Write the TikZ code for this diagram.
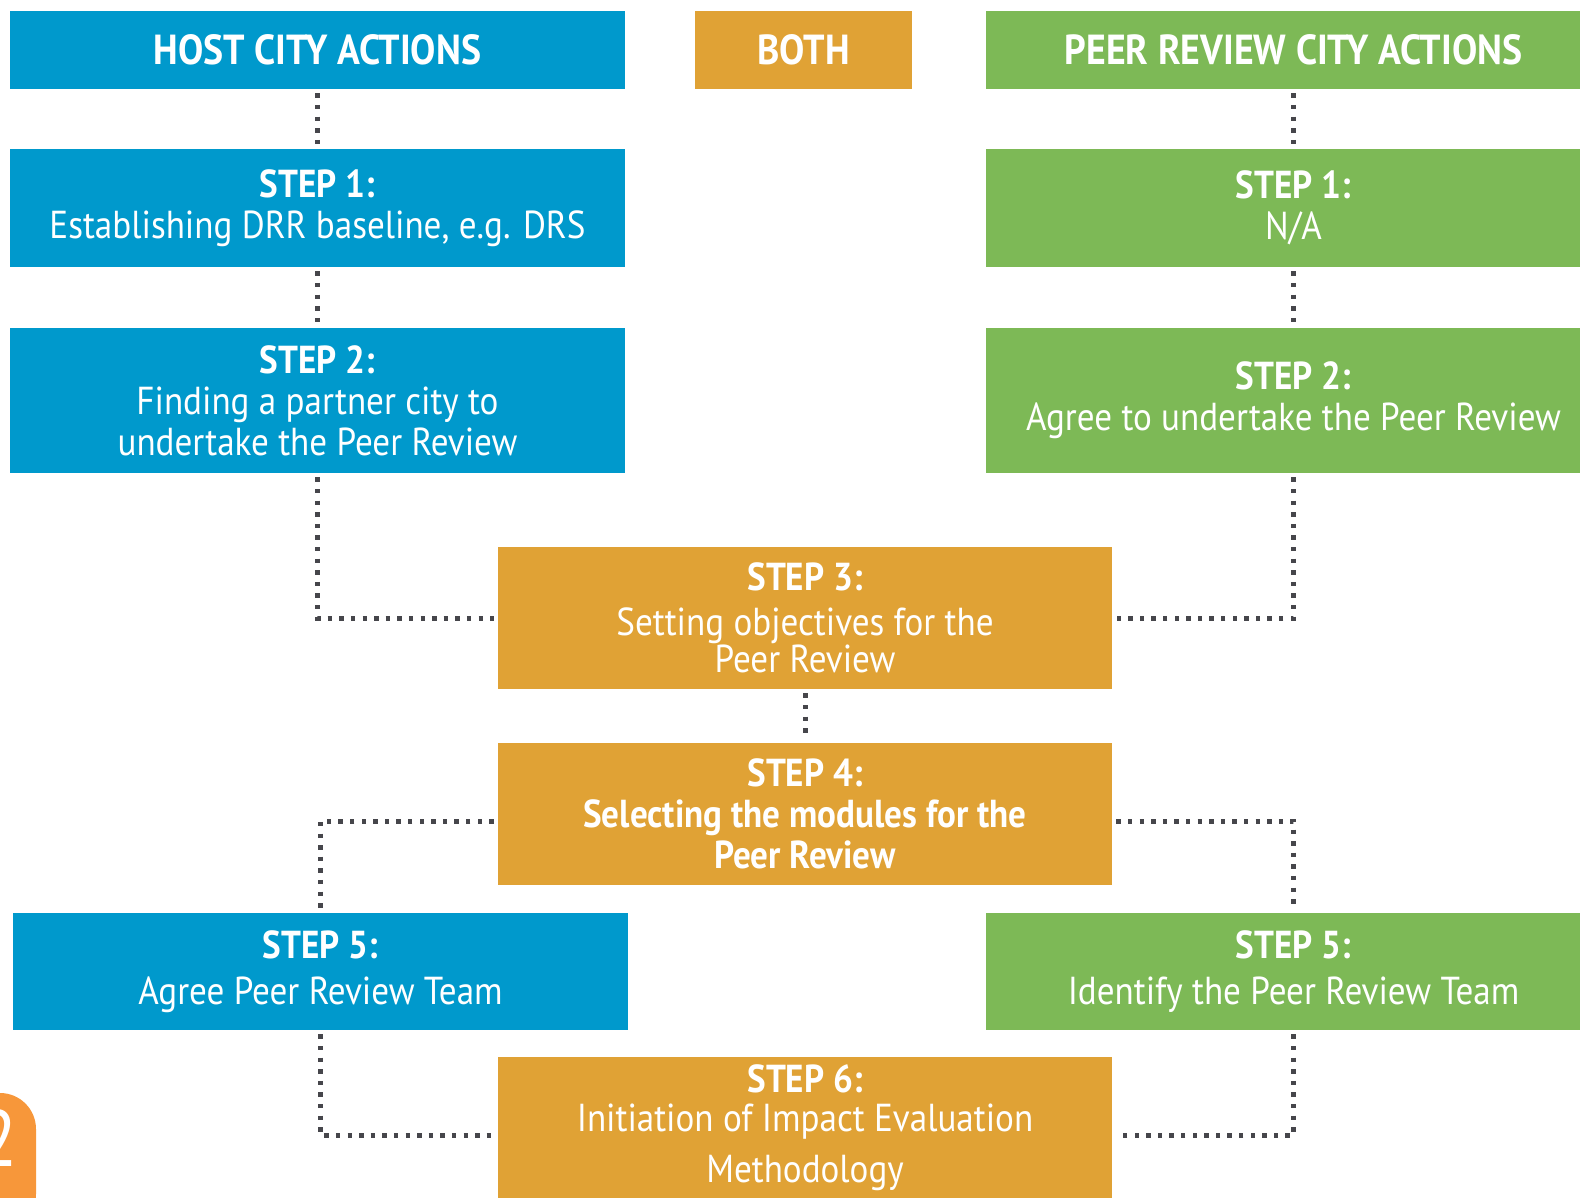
\documentclass[tikz,border=0pt]{standalone}
\usepackage{fontspec}
\setmainfont[FakeStretch=0.9]{PT Sans}
\usetikzlibrary{positioning, calc}
\definecolor{hostblue}{RGB}{0,153,204}
\definecolor{bothorange}{RGB}{224,162,53}
\definecolor{peergreen}{RGB}{125,185,86}
\definecolor{tagorange}{RGB}{247,151,58}
\definecolor{dotgray}{RGB}{70,70,75}
\tikzset{
    stepbase/.style={rectangle, text=white, align=center, inner sep=0pt, font=\fontsize{19.5}{20.5}\selectfont},
    hostbox/.style={stepbase, fill=hostblue, minimum width=307.5pt},
    peerbox/.style={stepbase, fill=peergreen, minimum width=307.5pt},
    bothbox/.style={stepbase, fill=bothorange, minimum width=307pt, minimum height=71pt},
    headbox/.style={font=\fontsize{21}{22}\selectfont\bfseries, minimum height=39pt},
    link/.style={draw=dotgray, line width=2.5pt, dash pattern=on 2.2pt off 3.6pt, shorten <=2pt, shorten >=2pt}
}

\begin{document}
\begin{tikzpicture}[x=0.5pt, y=-0.5pt]
    \clip (0,0) rectangle (1580,1198);
    \useasboundingbox (0,0) rectangle (1580,1198);
    % headers
    \node (hosthead) [hostbox, headbox] at (317.5,50) {HOST CITY ACTIONS};
    \node (bothhead) [bothbox, headbox, minimum width=108.5pt] at (803.5,50) {BOTH};
    \node (peerhead) [peerbox, headbox] at (1293.5,50) {PEER REVIEW CITY ACTIONS};
    % host city column
    \node (host1) [hostbox, minimum height=59pt] at (317.5,208) {\textbf{STEP 1:}\\Establishing DRR baseline, e.g. DRS};
    \node (host2) [hostbox, minimum height=72.5pt] at (317.5,400.5) {\textbf{STEP 2:}\\Finding a partner city to\\undertake the Peer Review};
    \node (host5) [hostbox, minimum height=58.5pt] at (320.5,971.5) {\textbf{STEP 5:}\\[2.5pt]Agree Peer Review Team};
    % peer review city column
    \node (peer1) [peerbox, minimum height=59pt] at (1293.5,208) {\textbf{STEP 1:}\\N/A};
    \node (peer2) [peerbox, minimum height=72.5pt] at (1293.5,400.5) {\textbf{STEP 2:}\\Agree to undertake the Peer Review};
    \node (peer5) [peerbox, minimum height=58.5pt] at (1293.5,971.5) {\textbf{STEP 5:}\\[2.5pt]Identify the Peer Review Team};
    % both
    \node (step3) [bothbox] at (805,618) {\textbf{STEP 3:}\\[2pt]Setting objectives for the\\[-2pt]Peer Review};
    \node (step4) [bothbox, font=\fontsize{19.5}{20.5}\selectfont\bfseries] at (805,814) {STEP 4:\\Selecting the modules for the\\Peer Review};
    \node (step6) [bothbox] at (805,1128) {\textbf{STEP 6:}\\[-1pt]Initiation of Impact Evaluation\\[5pt]Methodology};
    % page tag
    \fill [tagorange, rounded corners=18pt] (-60,1093) rectangle (36,1230);
    \node (tag) [text=white, font=\fontsize{40}{40}\selectfont] at (-2,1138) {2};
    % links
    \draw [link] (hosthead) -- (host1);
    \draw [link] (host1) -- (host2);
    \draw [link] (peerhead) -- (peer1);
    \draw [link] (peer1) -- (peer2);
    \draw [link] (host2.south) |- (step3.west);
    \draw [link] (peer2.south) |- (step3.east);
    \draw [link] (step3) -- (step4);
    \draw [link] ([yshift=-3.5pt]step4.west) -| (host5.north);
    \draw [link] ([yshift=-3.5pt]step4.east) -| (peer5.north);
    \draw [link] (host5.south) |- ([yshift=-3.5pt]step6.west);
    \draw [link] (peer5.south) |- ([yshift=-3.5pt]step6.east);
\end{tikzpicture}
\end{document}
